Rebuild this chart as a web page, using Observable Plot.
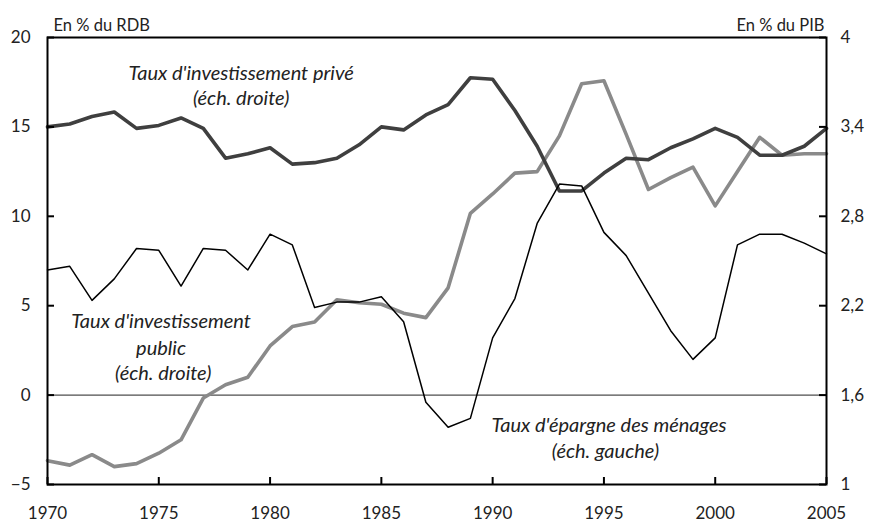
<!DOCTYPE html>
<html><head><meta charset="utf-8">
<script src="https://cdn.jsdelivr.net/npm/d3@7"></script>
<script src="https://cdn.jsdelivr.net/npm/@observablehq/plot@0.6"></script>
<style>body{margin:0;background:#fff}</style>
</head><body><div id="chart"></div>
<script>
const years = d3.range(1970, 2006);
// Taux d'épargne des ménages (éch. gauche, % du RDB)
const epargne = [7.0,7.2,5.3,6.5,8.2,8.1,6.1,8.2,8.1,7.0,9.0,8.4,4.9,5.2,5.2,5.5,4.1,-0.4,-1.8,-1.3,3.2,5.4,9.6,11.8,11.7,9.1,7.8,5.7,3.6,2.0,3.2,8.4,9.0,9.0,8.5,7.9];
// Taux d'investissement privé (éch. droite, % du PIB)
const prive = [3.40,3.42,3.47,3.50,3.39,3.41,3.46,3.39,3.19,3.22,3.26,3.15,3.16,3.19,3.28,3.40,3.38,3.48,3.55,3.73,3.72,3.51,3.27,2.97,2.97,3.09,3.19,3.18,3.26,3.32,3.39,3.33,3.21,3.21,3.27,3.39];
// Taux d'investissement public (éch. droite, % du PIB)
const public_ = [1.16,1.13,1.20,1.12,1.14,1.21,1.30,1.58,1.67,1.72,1.93,2.06,2.09,2.24,2.22,2.21,2.15,2.12,2.32,2.82,2.95,3.09,3.10,3.34,3.69,3.71,3.35,2.98,3.06,3.13,2.87,3.10,3.33,3.21,3.22,3.22];
const leftTicks = [-5,0,5,10,15,20];
const rightTicks = [1,1.6,2.2,2.8,3.4,4];
const xTicks = [1970,1975,1980,1985,1990,1995,2000,2005];

const toLeft = r => (r - 1) / 0.12 - 5;
const series = (vals, conv) => years.map((y, i) => ({year: y, v: conv ? conv(vals[i]) : vals[i]}));

const W = 874, H = 526, mL = 47, mR = 48, mT = 37, mB = 42;
const innerW = W - mL - mR, innerH = H - mT - mB;
const font = "Lato, 'Open Sans', sans-serif";

const chart = Plot.plot({
  width: W, height: H,
  marginLeft: mL, marginRight: mR, marginTop: mT, marginBottom: mB,
  style: {fontFamily: font, fontSize: "17px", color: "#222", background: "#fff"},
  x: {domain: [1970, 2005]},
  y: {domain: [-5, 20]},
  marks: [
    Plot.ruleY([0], {stroke: "#222", strokeWidth: 1}),
    Plot.line(series(public_, toLeft), {x: "year", y: "v", stroke: "#8a8a8a", strokeWidth: 3.6}),
    Plot.line(series(prive, toLeft), {x: "year", y: "v", stroke: "#3f3f3f", strokeWidth: 3.6}),
    Plot.line(series(epargne), {x: "year", y: "v", stroke: "#000", strokeWidth: 1.5}),
    Plot.frame({stroke: "#000", strokeWidth: 2}),
    Plot.tickY(leftTicks, {y: d => d, stroke: "#000", strokeWidth: 2, insetRight: innerW - 7}),
    Plot.tickY(rightTicks, {y: d => toLeft(d), stroke: "#000", strokeWidth: 2, insetLeft: innerW - 7}),
    Plot.tickX(xTicks, {x: d => d, stroke: "#000", strokeWidth: 2, insetTop: innerH - 7}),
    Plot.axisY(leftTicks, {anchor: "left", tickSize: 0, tickPadding: 17, label: null, fontSize: 17}),
    Plot.axisY(rightTicks.map(toLeft), {anchor: "right", tickSize: 0, tickPadding: 14, label: null, fontSize: 17,
      tickFormat: d => String(Math.round((1 + (d + 5) * 0.12) * 10) / 10).replace(".", ",")}),
    Plot.axisX(xTicks, {tickSize: 0, tickPadding: 22, label: null, tickFormat: d => String(d), fontSize: 17}),
    Plot.text(["En % du RDB"], {frameAnchor: "top-left", dx: 6, dy: -18, textAnchor: "start", fontSize: 16.5}),
    Plot.text(["En % du PIB"], {frameAnchor: "top-right", dx: -2, dy: -18, textAnchor: "end", fontSize: 16.5}),
    Plot.text([
      {x: 1978.7, y: 17.98, t: "Taux d'investissement privé"},
      {x: 1978.7, y: 16.58, t: "(éch. droite)"},
      {x: 1975.1, y: 4.1, t: "Taux d'investissement"},
      {x: 1975.1, y: 2.59, t: "public"},
      {x: 1975.2, y: 1.19, t: "(éch. droite)"},
      {x: 1995.23, y: -1.72, t: "Taux d'épargne des ménages"},
      {x: 1995.07, y: -3.18, t: "(éch. gauche)"}
    ], {x: "x", y: "y", text: "t", fontStyle: "italic", fontSize: 20, fill: "#222"})
  ]
});
document.getElementById("chart").appendChild(chart);
</script>
</body></html>
